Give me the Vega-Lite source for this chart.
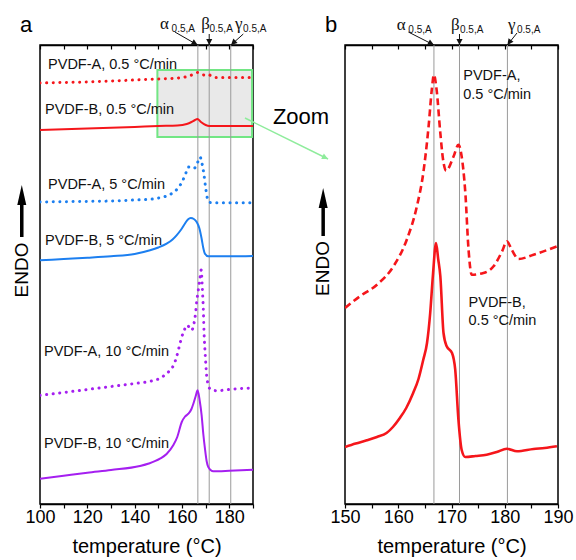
{
  "$schema": "https://vega.github.io/schema/vega-lite/v6.json",
  "padding": {"left": 12, "top": 13, "right": 3, "bottom": 3},
  "autosize": {"type": "pad"},
  "bounds": "flush",
  "spacing": 92,
  "datasets": {
    "vA": [{"T": 166.7, "h": 0, "h2": 459}, {"T": 171.5, "h": 0, "h2": 459}, {"T": 180.6, "h": 0, "h2": 459}],
    "boxA": [{"T": 149.6, "T2": 189.6, "h": 367, "h2": 434}],
    "curvesA": [
      {"T": 100, "h": 421, "sample": "A", "rate": "0.5"}, {"T": 110, "h": 421.5, "sample": "A", "rate": "0.5"}, {"T": 120, "h": 422, "sample": "A", "rate": "0.5"}, {"T": 130, "h": 423, "sample": "A", "rate": "0.5"}, {"T": 140, "h": 424, "sample": "A", "rate": "0.5"}, {"T": 150, "h": 425, "sample": "A", "rate": "0.5"}, {"T": 155, "h": 425.5, "sample": "A", "rate": "0.5"}, {"T": 160, "h": 426.5, "sample": "A", "rate": "0.5"}, {"T": 163, "h": 428, "sample": "A", "rate": "0.5"}, {"T": 165, "h": 430, "sample": "A", "rate": "0.5"}, {"T": 166.6, "h": 431.5, "sample": "A", "rate": "0.5"}, {"T": 168, "h": 430, "sample": "A", "rate": "0.5"}, {"T": 169.5, "h": 429, "sample": "A", "rate": "0.5"}, {"T": 171, "h": 429.5, "sample": "A", "rate": "0.5"}, {"T": 172.5, "h": 428, "sample": "A", "rate": "0.5"}, {"T": 174, "h": 426.5, "sample": "A", "rate": "0.5"}, {"T": 176, "h": 426.5, "sample": "A", "rate": "0.5"}, {"T": 180, "h": 426.5, "sample": "A", "rate": "0.5"}, {"T": 185, "h": 426.5, "sample": "A", "rate": "0.5"}, {"T": 190, "h": 426.5, "sample": "A", "rate": "0.5"},
      {"T": 100, "h": 374, "sample": "B", "rate": "0.5"}, {"T": 120, "h": 375.5, "sample": "B", "rate": "0.5"}, {"T": 140, "h": 377, "sample": "B", "rate": "0.5"}, {"T": 150, "h": 378, "sample": "B", "rate": "0.5"}, {"T": 158, "h": 378.5, "sample": "B", "rate": "0.5"}, {"T": 162, "h": 380, "sample": "B", "rate": "0.5"}, {"T": 164, "h": 382, "sample": "B", "rate": "0.5"}, {"T": 165.5, "h": 384, "sample": "B", "rate": "0.5"}, {"T": 166.5, "h": 385, "sample": "B", "rate": "0.5"}, {"T": 168, "h": 382, "sample": "B", "rate": "0.5"}, {"T": 170, "h": 379, "sample": "B", "rate": "0.5"}, {"T": 171.5, "h": 378, "sample": "B", "rate": "0.5"}, {"T": 175, "h": 378, "sample": "B", "rate": "0.5"}, {"T": 180, "h": 378, "sample": "B", "rate": "0.5"}, {"T": 190, "h": 378, "sample": "B", "rate": "0.5"},
      {"T": 100, "h": 302, "sample": "A", "rate": "5"}, {"T": 110, "h": 302.3, "sample": "A", "rate": "5"}, {"T": 120, "h": 302.6, "sample": "A", "rate": "5"}, {"T": 130, "h": 303, "sample": "A", "rate": "5"}, {"T": 140, "h": 304, "sample": "A", "rate": "5"}, {"T": 146.5, "h": 304.7, "sample": "A", "rate": "5"}, {"T": 150, "h": 306, "sample": "A", "rate": "5"}, {"T": 153.5, "h": 308, "sample": "A", "rate": "5"}, {"T": 156, "h": 311, "sample": "A", "rate": "5"}, {"T": 158, "h": 315, "sample": "A", "rate": "5"}, {"T": 160, "h": 322, "sample": "A", "rate": "5"}, {"T": 161.5, "h": 330, "sample": "A", "rate": "5"}, {"T": 162.7, "h": 337, "sample": "A", "rate": "5"}, {"T": 164, "h": 336, "sample": "A", "rate": "5"}, {"T": 165, "h": 335.5, "sample": "A", "rate": "5"}, {"T": 166.5, "h": 341, "sample": "A", "rate": "5"}, {"T": 167.6, "h": 347, "sample": "A", "rate": "5"}, {"T": 168.5, "h": 340, "sample": "A", "rate": "5"}, {"T": 169.3, "h": 329, "sample": "A", "rate": "5"}, {"T": 170, "h": 316, "sample": "A", "rate": "5"}, {"T": 170.7, "h": 306, "sample": "A", "rate": "5"}, {"T": 171.8, "h": 301.5, "sample": "A", "rate": "5"}, {"T": 174, "h": 301.3, "sample": "A", "rate": "5"}, {"T": 180, "h": 301.3, "sample": "A", "rate": "5"}, {"T": 190, "h": 301.3, "sample": "A", "rate": "5"},
      {"T": 100, "h": 243.7, "sample": "B", "rate": "5"}, {"T": 110, "h": 245, "sample": "B", "rate": "5"}, {"T": 120, "h": 246.3, "sample": "B", "rate": "5"}, {"T": 130, "h": 247.8, "sample": "B", "rate": "5"}, {"T": 140, "h": 250, "sample": "B", "rate": "5"}, {"T": 146.5, "h": 253.7, "sample": "B", "rate": "5"}, {"T": 150, "h": 256.5, "sample": "B", "rate": "5"}, {"T": 153.5, "h": 260.3, "sample": "B", "rate": "5"}, {"T": 156, "h": 264.5, "sample": "B", "rate": "5"}, {"T": 157.7, "h": 268.7, "sample": "B", "rate": "5"}, {"T": 159.5, "h": 274, "sample": "B", "rate": "5"}, {"T": 161.2, "h": 280.3, "sample": "B", "rate": "5"}, {"T": 162.5, "h": 284.5, "sample": "B", "rate": "5"}, {"T": 163.7, "h": 286, "sample": "B", "rate": "5"}, {"T": 165, "h": 285, "sample": "B", "rate": "5"}, {"T": 166.2, "h": 282, "sample": "B", "rate": "5"}, {"T": 167.3, "h": 276, "sample": "B", "rate": "5"}, {"T": 168.3, "h": 265.3, "sample": "B", "rate": "5"}, {"T": 169, "h": 256, "sample": "B", "rate": "5"}, {"T": 169.7, "h": 250.3, "sample": "B", "rate": "5"}, {"T": 171.1, "h": 247.7, "sample": "B", "rate": "5"}, {"T": 175, "h": 247.7, "sample": "B", "rate": "5"}, {"T": 180, "h": 247.7, "sample": "B", "rate": "5"}, {"T": 190, "h": 248, "sample": "B", "rate": "5"},
      {"T": 100, "h": 108.7, "sample": "A", "rate": "10"}, {"T": 110, "h": 111.5, "sample": "A", "rate": "10"}, {"T": 120, "h": 114.5, "sample": "A", "rate": "10"}, {"T": 130, "h": 117.5, "sample": "A", "rate": "10"}, {"T": 140, "h": 120.5, "sample": "A", "rate": "10"}, {"T": 146.5, "h": 122.7, "sample": "A", "rate": "10"}, {"T": 150, "h": 125, "sample": "A", "rate": "10"}, {"T": 152.5, "h": 128.5, "sample": "A", "rate": "10"}, {"T": 154.9, "h": 133.7, "sample": "A", "rate": "10"}, {"T": 156.5, "h": 139, "sample": "A", "rate": "10"}, {"T": 157.7, "h": 147, "sample": "A", "rate": "10"}, {"T": 158.8, "h": 157, "sample": "A", "rate": "10"}, {"T": 159.9, "h": 167, "sample": "A", "rate": "10"}, {"T": 161, "h": 174, "sample": "A", "rate": "10"}, {"T": 162, "h": 178.7, "sample": "A", "rate": "10"}, {"T": 163, "h": 177, "sample": "A", "rate": "10"}, {"T": 164.1, "h": 173.7, "sample": "A", "rate": "10"}, {"T": 165, "h": 180, "sample": "A", "rate": "10"}, {"T": 165.7, "h": 190, "sample": "A", "rate": "10"}, {"T": 166.2, "h": 202, "sample": "A", "rate": "10"}, {"T": 166.9, "h": 214, "sample": "A", "rate": "10"}, {"T": 167.6, "h": 226, "sample": "A", "rate": "10"}, {"T": 168.1, "h": 234, "sample": "A", "rate": "10"}, {"T": 168.6, "h": 215, "sample": "A", "rate": "10"}, {"T": 169, "h": 195, "sample": "A", "rate": "10"}, {"T": 169.3, "h": 172, "sample": "A", "rate": "10"}, {"T": 169.8, "h": 150, "sample": "A", "rate": "10"}, {"T": 170.4, "h": 128.7, "sample": "A", "rate": "10"}, {"T": 171, "h": 120, "sample": "A", "rate": "10"}, {"T": 171.8, "h": 115.3, "sample": "A", "rate": "10"}, {"T": 174.6, "h": 113.3, "sample": "A", "rate": "10"}, {"T": 180, "h": 114.5, "sample": "A", "rate": "10"}, {"T": 185, "h": 115.5, "sample": "A", "rate": "10"}, {"T": 190, "h": 116, "sample": "A", "rate": "10"},
      {"T": 100, "h": 25.3, "sample": "B", "rate": "10"}, {"T": 110, "h": 28.3, "sample": "B", "rate": "10"}, {"T": 120, "h": 31.3, "sample": "B", "rate": "10"}, {"T": 130, "h": 34, "sample": "B", "rate": "10"}, {"T": 142.2, "h": 38, "sample": "B", "rate": "10"}, {"T": 146, "h": 40.5, "sample": "B", "rate": "10"}, {"T": 150.7, "h": 45.3, "sample": "B", "rate": "10"}, {"T": 153.5, "h": 50, "sample": "B", "rate": "10"}, {"T": 156.3, "h": 58.7, "sample": "B", "rate": "10"}, {"T": 158, "h": 67, "sample": "B", "rate": "10"}, {"T": 159.9, "h": 82, "sample": "B", "rate": "10"}, {"T": 161.3, "h": 87.5, "sample": "B", "rate": "10"}, {"T": 162.7, "h": 90.3, "sample": "B", "rate": "10"}, {"T": 164, "h": 95, "sample": "B", "rate": "10"}, {"T": 164.8, "h": 100.3, "sample": "B", "rate": "10"}, {"T": 165.8, "h": 108, "sample": "B", "rate": "10"}, {"T": 166.6, "h": 113.7, "sample": "B", "rate": "10"}, {"T": 167.5, "h": 103, "sample": "B", "rate": "10"}, {"T": 168.3, "h": 88.7, "sample": "B", "rate": "10"}, {"T": 169, "h": 70, "sample": "B", "rate": "10"}, {"T": 169.7, "h": 55.3, "sample": "B", "rate": "10"}, {"T": 170.4, "h": 43, "sample": "B", "rate": "10"}, {"T": 171.1, "h": 37, "sample": "B", "rate": "10"}, {"T": 173.2, "h": 32.7, "sample": "B", "rate": "10"}, {"T": 180, "h": 33.2, "sample": "B", "rate": "10"}, {"T": 190, "h": 34.3, "sample": "B", "rate": "10"}
    ],
    "labA": [
      {"T": 103.4, "h": 439, "text": "PVDF-A, 0.5 °C/min"},
      {"T": 102.1, "h": 394, "text": "PVDF-B, 0.5 °C/min"},
      {"T": 103.4, "h": 318.7, "text": "PVDF-A, 5 °C/min"},
      {"T": 102.1, "h": 262.7, "text": "PVDF-B, 5 °C/min"},
      {"T": 101.7, "h": 152, "text": "PVDF-A, 10 °C/min"},
      {"T": 101.7, "h": 59.7, "text": "PVDF-B, 10 °C/min"}
    ],
    "greekA": [{"T": 150.7, "h": 475, "text": "α"}, {"T": 168.1, "h": 475, "text": "β"}, {"T": 182.4, "h": 475, "text": "γ"}],
    "subA": [{"T": 155.6, "h": 472, "text": "0.5,A"}, {"T": 171.6, "h": 472, "text": "0.5,A"}, {"T": 185.8, "h": 472, "text": "0.5,A"}],
    "arrA": [
      {"T": 157, "h": 472, "T2": 166.6, "h2": 459, "k": "a"},
      {"T": 171.5, "h": 470, "T2": 171.5, "h2": 459, "k": "b"},
      {"T": 185.9, "h": 470, "T2": 180.7, "h2": 459, "k": "g"}
    ],
    "panA": [{"T": 94.1, "h": 479, "text": "a"}],
    "endoA": [{"T": 92.3, "h": 234, "text": "ENDO"}],
    "endoShaftA": [{"T": 92.3, "h": 267, "h2": 300}],
    "endoHeadA": [{"T": 92.3, "h": 309}],
    "zoomText": [{"T": 210.3, "h": 387, "text": "Zoom"}],
    "zoomArrow": [{"T": 186.6, "h": 386, "T2": 221.7, "h2": 345}],
    "vB": [{"T": 166.7, "h": 0, "h2": 459}, {"T": 171.5, "h": 0, "h2": 459}, {"T": 180.5, "h": 0, "h2": 459}],
    "curvesB": [
      {"T": 150, "h": 196, "sample": "A"}, {"T": 152.8, "h": 207.7, "sample": "A"}, {"T": 156, "h": 219.3, "sample": "A"}, {"T": 159.1, "h": 237.7, "sample": "A"}, {"T": 161.6, "h": 264.3, "sample": "A"}, {"T": 163.5, "h": 297.7, "sample": "A"}, {"T": 164.7, "h": 331, "sample": "A"}, {"T": 165.7, "h": 377.7, "sample": "A"}, {"T": 166.3, "h": 414.3, "sample": "A"}, {"T": 166.7, "h": 429.3, "sample": "A"}, {"T": 167.2, "h": 414.3, "sample": "A"}, {"T": 167.9, "h": 371, "sample": "A"}, {"T": 168.4, "h": 345, "sample": "A"}, {"T": 169, "h": 333.3, "sample": "A"}, {"T": 170.4, "h": 347.7, "sample": "A"}, {"T": 171.3, "h": 359.3, "sample": "A"}, {"T": 171.9, "h": 347.7, "sample": "A"}, {"T": 172.6, "h": 311, "sample": "A"}, {"T": 173.2, "h": 254.3, "sample": "A"}, {"T": 173.8, "h": 229.3, "sample": "A"}, {"T": 176, "h": 231, "sample": "A"}, {"T": 177.9, "h": 237.7, "sample": "A"}, {"T": 179.5, "h": 252.7, "sample": "A"}, {"T": 180.4, "h": 262.7, "sample": "A"}, {"T": 181.3, "h": 254.3, "sample": "A"}, {"T": 182.6, "h": 245, "sample": "A"}, {"T": 185.4, "h": 249.3, "sample": "A"}, {"T": 189.5, "h": 257, "sample": "A"}, {"T": 190, "h": 258, "sample": "A"},
      {"T": 150, "h": 57, "sample": "B"}, {"T": 152, "h": 60.5, "sample": "B"}, {"T": 154.1, "h": 63.7, "sample": "B"}, {"T": 156, "h": 67, "sample": "B"}, {"T": 157.8, "h": 71, "sample": "B"}, {"T": 159, "h": 77, "sample": "B"}, {"T": 160.3, "h": 86, "sample": "B"}, {"T": 161.5, "h": 96, "sample": "B"}, {"T": 162.8, "h": 111, "sample": "B"}, {"T": 163.8, "h": 125, "sample": "B"}, {"T": 164.7, "h": 144.3, "sample": "B"}, {"T": 165.4, "h": 161, "sample": "B"}, {"T": 166, "h": 191, "sample": "B"}, {"T": 166.5, "h": 228, "sample": "B"}, {"T": 167.1, "h": 261, "sample": "B"}, {"T": 167.5, "h": 245, "sample": "B"}, {"T": 167.9, "h": 228, "sample": "B"}, {"T": 168.5, "h": 171, "sample": "B"}, {"T": 169.1, "h": 157.7, "sample": "B"}, {"T": 170.1, "h": 151, "sample": "B"}, {"T": 170.7, "h": 134.3, "sample": "B"}, {"T": 171.3, "h": 84.3, "sample": "B"}, {"T": 171.9, "h": 54.3, "sample": "B"}, {"T": 172.6, "h": 47, "sample": "B"}, {"T": 174.5, "h": 48, "sample": "B"}, {"T": 176.6, "h": 49.3, "sample": "B"}, {"T": 178.5, "h": 52, "sample": "B"}, {"T": 180.4, "h": 55.3, "sample": "B"}, {"T": 182.3, "h": 52.7, "sample": "B"}, {"T": 185.4, "h": 55, "sample": "B"}, {"T": 187.5, "h": 56, "sample": "B"}, {"T": 189.8, "h": 57.7, "sample": "B"}
    ],
    "labB": [
      {"T": 172.2, "h": 428, "text": "PVDF-A,"},
      {"T": 172.2, "h": 409, "text": "0.5 °C/min"},
      {"T": 173.2, "h": 201, "text": "PVDF-B,"},
      {"T": 173.2, "h": 182.7, "text": "0.5 °C/min"}
    ],
    "greekB": [{"T": 159.7, "h": 474, "text": "α"}, {"T": 169.9, "h": 474, "text": "β"}, {"T": 180.6, "h": 474, "text": "γ"}],
    "subB": [{"T": 161.9, "h": 471, "text": "0.5,A"}, {"T": 171.6, "h": 471, "text": "0.5,A"}, {"T": 182.3, "h": 471, "text": "0.5,A"}],
    "arrB": [
      {"T": 161.9, "h": 472, "T2": 166.7, "h2": 459, "k": "a"},
      {"T": 171.5, "h": 470, "T2": 171.5, "h2": 459, "k": "b"},
      {"T": 182.3, "h": 471, "T2": 180.5, "h2": 459, "k": "g"}
    ],
    "panB": [{"T": 147.4, "h": 479, "text": "b"}],
    "endoB": [{"T": 145.9, "h": 235.5, "text": "ENDO"}],
    "endoShaftB": [{"T": 145.9, "h": 268, "h2": 297}],
    "endoHeadB": [{"T": 145.9, "h": 306}]
  },
  "hconcat": [
    {
      "width": 213,
      "height": 459,
      "encoding": {
        "x": {"field": "T", "type": "quantitative", "scale": {"domain": [100, 190], "nice": false, "zero": false}, "axis": null},
        "y": {"field": "h", "type": "quantitative", "scale": {"domain": [0, 459], "nice": false, "zero": false}, "axis": null}
      },
      "layer": [
        {
          "data": {"name": "boxA"},
          "mark": {"type": "rect", "fill": "#e2e2e2", "fillOpacity": 0.75, "stroke": "#72e684", "strokeWidth": 2, "clip": false},
          "encoding": {"x2": {"field": "T2"}, "y2": {"field": "h2"}}
        },
        {
          "data": {"name": "vA"},
          "mark": {"type": "rule", "color": "#9a9a9a", "strokeWidth": 1},
          "encoding": {
            "x": {"field": "T", "type": "quantitative", "scale": {"domain": [100, 190], "nice": false, "zero": false},
              "axis": {"orient": "top", "values": [100, 110, 120, 130, 140, 150, 160, 170, 180, 190], "labels": false, "tickSize": -4, "title": null, "grid": false, "domainWidth": 1.5, "tickWidth": 1.2}},
            "y2": {"field": "h2"}
          }
        },
        {
          "data": {"name": "curvesA"},
          "transform": [{"filter": "datum.sample == 'B'"}],
          "mark": {"type": "line", "strokeWidth": 2, "interpolate": "monotone", "clip": true},
          "encoding": {
            "x": {"field": "T", "type": "quantitative", "scale": {"domain": [100, 190], "nice": false, "zero": false},
              "axis": {"orient": "bottom", "values": [100, 110, 120, 130, 140, 150, 160, 170, 180, 190], "labelExpr": "datum.value % 20 == 0 ? datum.label : ''", "tickSize": 4, "tickWidth": 1.2, "labelFontSize": 18, "labelPadding": 0, "labelFlush": false, "labelOverlap": false, "title": "temperature (°C)", "titleFontSize": 20, "titlePadding": 10, "grid": false, "domainWidth": 1.5}},
            "y": {"field": "h", "type": "quantitative", "scale": {"domain": [0, 459], "nice": false, "zero": false},
              "axis": {"orient": "left", "ticks": false, "labels": false, "grid": false, "title": null, "domainWidth": 1.5}},
            "color": {"field": "rate", "type": "nominal", "scale": {"domain": ["0.5", "5", "10"], "range": ["#f5161b", "#1c7ff0", "#a51ff0"]}, "legend": null}
          }
        },
        {
          "data": {"name": "curvesA"},
          "transform": [{"filter": "datum.sample == 'A'"}],
          "mark": {"type": "line", "strokeWidth": 3, "strokeDash": [0.1, 6.5], "strokeCap": "round", "interpolate": "monotone", "clip": true},
          "encoding": {
            "color": {"field": "rate", "type": "nominal", "scale": {"domain": ["0.5", "5", "10"], "range": ["#f5161b", "#1c7ff0", "#a51ff0"]}, "legend": null}
          }
        },
        {
          "data": {"name": "labA"},
          "mark": {"type": "text", "fontSize": 14.5, "align": "left", "baseline": "middle", "color": "#111", "clip": false},
          "encoding": {"text": {"field": "text"}}
        },
        {
          "data": {"name": "greekA"},
          "mark": {"type": "text", "font": "Liberation Serif", "fontSize": 17, "align": "left", "baseline": "alphabetic", "color": "#111", "clip": false},
          "encoding": {"text": {"field": "text"}}
        },
        {
          "data": {"name": "subA"},
          "mark": {"type": "text", "fontSize": 10, "align": "left", "baseline": "alphabetic", "color": "#111", "clip": false},
          "encoding": {"text": {"field": "text"}}
        },
        {
          "data": {"name": "arrA"},
          "mark": {"type": "rule", "color": "#111", "strokeWidth": 1, "clip": false},
          "encoding": {"x2": {"field": "T2"}, "y2": {"field": "h2"}}
        },
        {
          "data": {"name": "arrA"},
          "transform": [{"filter": "datum.k == 'a'"}],
          "mark": {"type": "point", "shape": "M0,0L-1,-0.5L-1,0.5Z", "filled": true, "color": "#111", "size": 150, "angle": 30, "opacity": 1, "clip": false},
          "encoding": {"x": {"field": "T2", "type": "quantitative", "axis": null}, "y": {"field": "h2", "type": "quantitative", "axis": null}}
        },
        {
          "data": {"name": "arrA"},
          "transform": [{"filter": "datum.k == 'b'"}],
          "mark": {"type": "point", "shape": "M0,0L-1,-0.5L-1,0.5Z", "filled": true, "color": "#111", "size": 150, "angle": 90, "opacity": 1, "clip": false},
          "encoding": {"x": {"field": "T2", "type": "quantitative", "axis": null}, "y": {"field": "h2", "type": "quantitative", "axis": null}}
        },
        {
          "data": {"name": "arrA"},
          "transform": [{"filter": "datum.k == 'g'"}],
          "mark": {"type": "point", "shape": "M0,0L-1,-0.5L-1,0.5Z", "filled": true, "color": "#111", "size": 150, "angle": 137, "opacity": 1, "clip": false},
          "encoding": {"x": {"field": "T2", "type": "quantitative", "axis": null}, "y": {"field": "h2", "type": "quantitative", "axis": null}}
        },
        {
          "data": {"name": "panA"},
          "mark": {"type": "text", "fontSize": 22, "align": "center", "baseline": "middle", "color": "#000", "clip": false},
          "encoding": {"text": {"field": "text"}}
        },
        {
          "data": {"name": "endoA"},
          "mark": {"type": "text", "fontSize": 19, "angle": 270, "align": "center", "baseline": "middle", "color": "#000", "clip": false},
          "encoding": {"text": {"field": "text"}}
        },
        {
          "data": {"name": "endoShaftA"},
          "mark": {"type": "rule", "color": "#000", "strokeWidth": 3.5, "clip": false},
          "encoding": {"y2": {"field": "h2"}}
        },
        {
          "data": {"name": "endoHeadA"},
          "mark": {"type": "point", "shape": "M0,-1L-0.45,1L0.45,1Z", "filled": true, "color": "#000", "size": 400, "opacity": 1, "clip": false},
          "encoding": {}
        },
        {
          "data": {"name": "zoomText"},
          "mark": {"type": "text", "fontSize": 22, "align": "center", "baseline": "middle", "color": "#000", "clip": false},
          "encoding": {"text": {"field": "text"}}
        },
        {
          "data": {"name": "zoomArrow"},
          "mark": {"type": "rule", "color": "#8fec9c", "strokeWidth": 1.5, "clip": false},
          "encoding": {"x2": {"field": "T2"}, "y2": {"field": "h2"}}
        },
        {
          "data": {"name": "zoomArrow"},
          "mark": {"type": "point", "shape": "M0,0L-1,-0.5L-1,0.5Z", "filled": true, "color": "#8fec9c", "size": 150, "angle": 26, "opacity": 1, "clip": false},
          "encoding": {"x": {"field": "T2", "type": "quantitative", "axis": null}, "y": {"field": "h2", "type": "quantitative", "axis": null}}
        }
      ]
    },
    {
      "width": 213,
      "height": 459,
      "encoding": {
        "x": {"field": "T", "type": "quantitative", "scale": {"domain": [150, 190], "nice": false, "zero": false}, "axis": null},
        "y": {"field": "h", "type": "quantitative", "scale": {"domain": [0, 459], "nice": false, "zero": false}, "axis": null}
      },
      "layer": [
        {
          "data": {"name": "vB"},
          "mark": {"type": "rule", "color": "#9a9a9a", "strokeWidth": 1},
          "encoding": {
            "x": {"field": "T", "type": "quantitative", "scale": {"domain": [150, 190], "nice": false, "zero": false},
              "axis": {"orient": "top", "values": [150, 155, 160, 165, 170, 175, 180, 185, 190], "labels": false, "tickSize": -4, "title": null, "grid": false, "domainWidth": 1.5, "tickWidth": 1.2}},
            "y2": {"field": "h2"}
          }
        },
        {
          "data": {"name": "curvesB"},
          "transform": [{"filter": "datum.sample == 'B'"}],
          "mark": {"type": "line", "strokeWidth": 2.6, "color": "#f5161b", "interpolate": "monotone", "clip": true},
          "encoding": {
            "x": {"field": "T", "type": "quantitative", "scale": {"domain": [150, 190], "nice": false, "zero": false},
              "axis": {"orient": "bottom", "values": [150, 155, 160, 165, 170, 175, 180, 185, 190], "labelExpr": "datum.value % 10 == 0 ? datum.label : ''", "tickSize": 4, "tickWidth": 1.2, "labelFontSize": 18, "labelPadding": 0, "labelFlush": false, "labelOverlap": false, "title": "temperature (°C)", "titleFontSize": 20, "titlePadding": 10, "grid": false, "domainWidth": 1.5}},
            "y": {"field": "h", "type": "quantitative", "scale": {"domain": [0, 459], "nice": false, "zero": false},
              "axis": {"orient": "left", "ticks": false, "labels": false, "grid": false, "title": null, "domainWidth": 1.5}}
          }
        },
        {
          "data": {"name": "curvesB"},
          "transform": [{"filter": "datum.sample == 'A'"}],
          "mark": {"type": "line", "strokeWidth": 2.6, "color": "#f5161b", "strokeDash": [7, 4], "interpolate": "monotone", "clip": true},
          "encoding": {}
        },
        {
          "data": {"name": "labB"},
          "mark": {"type": "text", "fontSize": 14.5, "align": "left", "baseline": "middle", "color": "#111", "clip": false},
          "encoding": {"text": {"field": "text"}}
        },
        {
          "data": {"name": "greekB"},
          "mark": {"type": "text", "font": "Liberation Serif", "fontSize": 17, "align": "left", "baseline": "alphabetic", "color": "#111", "clip": false},
          "encoding": {"text": {"field": "text"}}
        },
        {
          "data": {"name": "subB"},
          "mark": {"type": "text", "fontSize": 10, "align": "left", "baseline": "alphabetic", "color": "#111", "clip": false},
          "encoding": {"text": {"field": "text"}}
        },
        {
          "data": {"name": "arrB"},
          "mark": {"type": "rule", "color": "#111", "strokeWidth": 1, "clip": false},
          "encoding": {"x2": {"field": "T2"}, "y2": {"field": "h2"}}
        },
        {
          "data": {"name": "arrB"},
          "transform": [{"filter": "datum.k == 'a'"}],
          "mark": {"type": "point", "shape": "M0,0L-1,-0.5L-1,0.5Z", "filled": true, "color": "#111", "size": 150, "angle": 28, "opacity": 1, "clip": false},
          "encoding": {"x": {"field": "T2", "type": "quantitative", "axis": null}, "y": {"field": "h2", "type": "quantitative", "axis": null}}
        },
        {
          "data": {"name": "arrB"},
          "transform": [{"filter": "datum.k == 'b'"}],
          "mark": {"type": "point", "shape": "M0,0L-1,-0.5L-1,0.5Z", "filled": true, "color": "#111", "size": 150, "angle": 90, "opacity": 1, "clip": false},
          "encoding": {"x": {"field": "T2", "type": "quantitative", "axis": null}, "y": {"field": "h2", "type": "quantitative", "axis": null}}
        },
        {
          "data": {"name": "arrB"},
          "transform": [{"filter": "datum.k == 'g'"}],
          "mark": {"type": "point", "shape": "M0,0L-1,-0.5L-1,0.5Z", "filled": true, "color": "#111", "size": 150, "angle": 126, "opacity": 1, "clip": false},
          "encoding": {"x": {"field": "T2", "type": "quantitative", "axis": null}, "y": {"field": "h2", "type": "quantitative", "axis": null}}
        },
        {
          "data": {"name": "panB"},
          "mark": {"type": "text", "fontSize": 22, "align": "center", "baseline": "middle", "color": "#000", "clip": false},
          "encoding": {"text": {"field": "text"}}
        },
        {
          "data": {"name": "endoB"},
          "mark": {"type": "text", "fontSize": 19, "angle": 270, "align": "center", "baseline": "middle", "color": "#000", "clip": false},
          "encoding": {"text": {"field": "text"}}
        },
        {
          "data": {"name": "endoShaftB"},
          "mark": {"type": "rule", "color": "#000", "strokeWidth": 3.5, "clip": false},
          "encoding": {"y2": {"field": "h2"}}
        },
        {
          "data": {"name": "endoHeadB"},
          "mark": {"type": "point", "shape": "M0,-1L-0.45,1L0.45,1Z", "filled": true, "color": "#000", "size": 400, "opacity": 1, "clip": false},
          "encoding": {}
        }
      ]
    }
  ],
  "config": {
    "font": "Liberation Sans",
    "view": {"stroke": "#000", "strokeWidth": 1.5},
    "axis": {"domainColor": "#000", "tickColor": "#000", "labelColor": "#000", "titleColor": "#000", "titleFontWeight": "normal", "labelFont": "Liberation Sans", "titleFont": "Liberation Sans"},
    "text": {"font": "Liberation Sans"}
  }
}
